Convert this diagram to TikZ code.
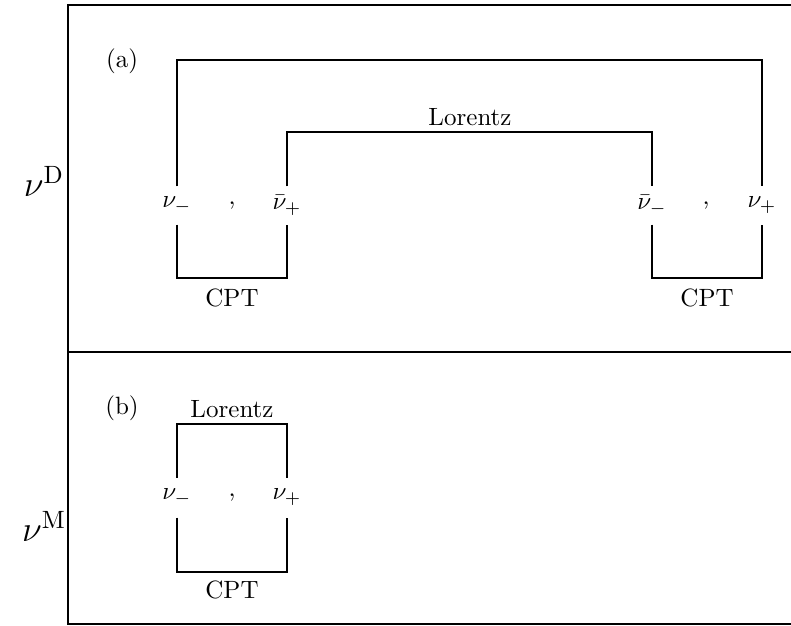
\documentclass[tikz,border=0pt]{standalone}
\begin{document}
\begin{tikzpicture}[x=0.4pt,y=-0.4pt,
  lbl/.style={inner sep=0pt,minimum height=14.8pt,anchor=center},
  brk/.style={line width=0.45pt},
  frm/.style={line width=0.6pt},
  big/.style={font=\Large}]
\useasboundingbox (0,0) rectangle (791,625);
% frame
\coordinate (fTL) at (68,5);
\coordinate (fTR) at (791,5);
\coordinate (fML) at (68,352);
\coordinate (fMR) at (791,352);
\coordinate (fBL) at (68,624);
\coordinate (fBR) at (791,624);
\draw[frm] (fTR) -- (fTL) -- (fBL) -- (fBR);
\draw[line width=0.7pt] (fML) -- (fMR);
% side labels
\node[big] (nD) at (44,181) {$\nu^{\mathrm{D}}$};
\node[big] (nM) at (44,526) {$\nu^{\mathrm{M}}$};
% panel (a)
\node (la) at (122,61) {(a)};
\node[lbl] (a1) at (177,205.5) {$\nu_-$};
\node[lbl] (c1) at (232,205.5) {,};
\node[lbl] (a2) at (287,205.5) {$\bar\nu_+$};
\node[lbl] (a3) at (652,205.5) {$\bar\nu_-$};
\node[lbl] (c2) at (706,205.5) {,};
\node[lbl] (a4) at (762,205.5) {$\nu_+$};
\coordinate (outerTop) at (0,60);
\coordinate (innerTop) at (0,132);
\coordinate (cptBot) at (0,278);
\draw[brk] (a1.north) -- (a1.north |- outerTop) -- (a4.north |- outerTop) -- (a4.north);
\draw[brk] (a2.north) -- (a2.north |- innerTop) -- (a3.north |- innerTop) -- (a3.north);
\draw[brk] (a1.south) -- (a1.south |- cptBot) -- (a2.south |- cptBot) -- (a2.south);
\draw[brk] (a3.south) -- (a3.south |- cptBot) -- (a4.south |- cptBot) -- (a4.south);
\node (lorA) at (470,117) {Lorentz};
\node (cptA1) at (232,298) {CPT};
\node (cptA2) at (707,298) {CPT};
% panel (b)
\node (lb) at (122,408) {(b)};
\node[lbl,minimum height=15.6pt] (b1) at (177,497.5) {$\nu_-$};
\node[lbl,minimum height=15.6pt] (c3) at (232,497.5) {,};
\node[lbl,minimum height=15.6pt] (b2) at (287,497.5) {$\nu_+$};
\coordinate (bTop) at (0,424);
\coordinate (bBot) at (0,572);
\draw[brk] (b1.north) -- (b1.north |- bTop) -- (b2.north |- bTop) -- (b2.north);
\draw[brk] (b1.south) -- (b1.south |- bBot) -- (b2.south |- bBot) -- (b2.south);
\node (lorB) at (232,409) {Lorentz};
\node (cptB) at (232,590) {CPT};
\end{tikzpicture}
\end{document}
